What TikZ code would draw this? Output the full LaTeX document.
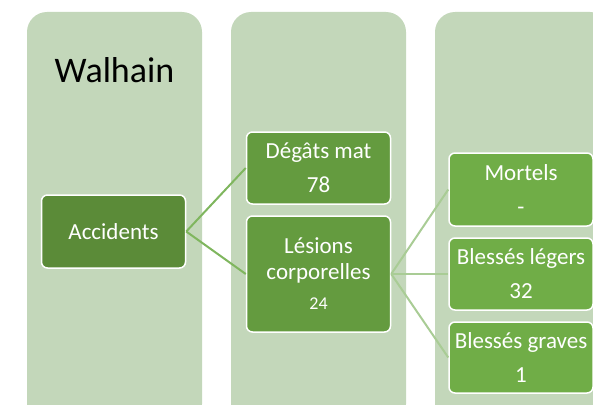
\documentclass[tikz,border=0pt]{standalone}
\usepackage{fontspec}
\setmainfont{Carlito}
\definecolor{colbg}{HTML}{C3D7BA}
\definecolor{lvlone}{HTML}{5B8B38}
\definecolor{lvltwo}{HTML}{649B3F}
\definecolor{lvlthree}{HTML}{70AD47}
\definecolor{linkone}{HTML}{7FB65E}
\definecolor{linktwo}{HTML}{A9CC95}
\tikzset{
  colbox/.style={fill=colbg, rounded corners=20pt},
  cardbox/.style={draw=white, line width=1.5pt, rounded corners=6pt, text=white,
    align=center, inner sep=0pt, minimum width=144pt,
    font=\fontsize{23}{34}\selectfont},
  linkA/.style={draw=linkone, line width=2pt},
  linkB/.style={draw=linktwo, line width=2pt},
}
\begin{document}
\begin{tikzpicture}[x=1pt,y=-1pt]
\useasboundingbox (0,0) rectangle (593,404);
\clip (0,0) rectangle (593,404);
% columns
\fill[colbox] (27,12) rectangle (202,424);
\fill[colbox] (231,12) rectangle (406,424);
\fill[colbox] (435,12) rectangle (610,424);
\node[font=\fontsize{36}{40}\selectfont, text=black] (title) at (114.5,70) {Walhain};
% coordinates for boxes
\coordinate (pA) at (113.5,231.5);
\coordinate (pD) at (318.5,168);
\coordinate (pL) at (318.5,274);
\coordinate (pM) at (521,189.5);
\coordinate (pB) at (521,274);
\coordinate (pG) at (521,357.5);
% boxes
\node[cardbox, fill=lvlone, minimum height=73pt] (acc) at (pA) {Accidents};
\node[cardbox, fill=lvltwo, minimum height=72pt] (deg) at (pD) {Dégâts mat\\78};
\node[cardbox, fill=lvltwo, minimum height=116pt, font=\fontsize{23}{26}\selectfont] (les) at (pL)
  {Lésions\\corporelles\\[4pt]{\fontsize{18}{26}\selectfont 24}};
\node[cardbox, fill=lvlthree, minimum height=73pt] (mor) at (pM) {Mortels\\-};
\node[cardbox, fill=lvlthree, minimum height=72pt] (leg) at (pB) {Blessés légers\\32};
\node[cardbox, fill=lvlthree, minimum height=71pt] (gra) at (pG) {Blessés graves\\1};
% connectors
\draw[linkA] (acc.east) -- (deg.west);
\draw[linkA] (acc.east) -- (les.west);
\draw[linkB] (les.east) -- (mor.west);
\draw[linkB] (les.east) -- (leg.west);
\draw[linkB] (les.east) -- (gra.west);
\end{tikzpicture}
\end{document}
